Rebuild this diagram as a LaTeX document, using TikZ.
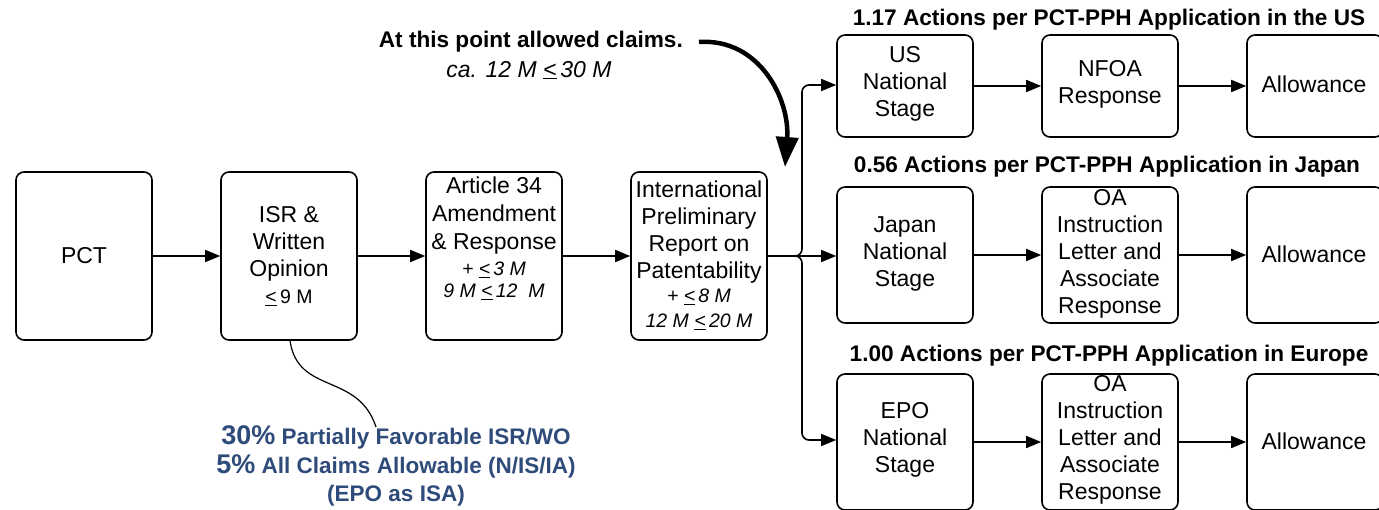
\documentclass[tikz,border=0pt]{standalone}
\usepackage{fontspec}
\setmainfont{Liberation Sans}
\usetikzlibrary{arrows.meta}
\definecolor{noteblue}{RGB}{47,75,122}
\newcommand{\leu}{\underline{<}}
\newcommand{\smallit}{\fontsize{19.5}{22}\selectfont\itshape}
\begin{document}
\begin{tikzpicture}[x=1pt,y=-1pt,
  box/.style={draw, line width=1.6pt, rounded corners=8pt, inner sep=0pt},
  txt/.style={align=center, font=\fontsize{23}{27}\selectfont, inner sep=0pt},
  flow/.style={line width=1.6pt, -{Triangle[length=15pt,width=12pt]}},
  ttl/.style={font=\fontsize{22.6}{26}\selectfont\bfseries, inner sep=0pt},
]
\useasboundingbox (0,0) rectangle (1379,510);
% left chain boxes
\node[box, minimum width=136pt, minimum height=168pt] (pct) at (84,256) {};
\node[txt] (pcttxt) at (84,256) {PCT};
\node[box, minimum width=136pt, minimum height=168pt] (isr) at (289,256) {};
\node[txt] (isrtxt) at (289,256) {ISR \&\\Written\\Opinion\\{\fontsize{19.5}{22}\selectfont\leu\,9 M}};
\node[box, minimum width=136pt, minimum height=168pt] (art) at (494,256) {};
\node[txt, anchor=north] (arttxt) at (494,177) {Article 34\\[1pt]Amendment\\[1pt]\& Response\\[-1pt]{\smallit + \leu\,3 M}\\[-5pt]{\smallit 9 M \leu\,12\ \ M}};
\node[box, minimum width=136pt, minimum height=168pt] (iprp) at (699,256) {};
\node[txt] (iprptxt) at (699,255) {International\\Preliminary\\Report on\\Patentability\\[-3pt]{\smallit + \leu\,8 M}\\[-2pt]{\smallit 12 M \leu\,20 M}};
\draw[flow] (pct) -- (isr);
\draw[flow] (isr) -- (art);
\draw[flow] (art) -- (iprp);
% right boxes
\node[box, minimum width=136pt, minimum height=102pt] (us) at (905,86) {};
\node[txt] (ustxt) at (905,84) {US\\National\\Stage};
\node[box, minimum width=136pt, minimum height=102pt] (nfoa) at (1110,86) {};
\node[txt] (nfoatxt) at (1110,84) {NFOA\\Response};
\node[box, minimum width=136pt, minimum height=102pt] (allus) at (1315,86) {};
\node[txt] (allustxt) at (1314,84) {Allowance};
\node[box, minimum width=136pt, minimum height=136pt] (jp) at (905,255) {};
\node[txt] (jptxt) at (905,254) {Japan\\National\\Stage};
\node[box, minimum width=136pt, minimum height=136pt] (oajp) at (1110,255) {};
\node[txt] (oajptxt) at (1110,254) {OA\\Instruction\\Letter and\\Associate\\Response};
\node[box, minimum width=136pt, minimum height=136pt] (alljp) at (1315,255) {};
\node[txt] (alljptxt) at (1314,254) {Allowance};
\node[box, minimum width=136pt, minimum height=136pt] (epo) at (905,442) {};
\node[txt] (epotxt) at (905,440) {EPO\\National\\Stage};
\node[box, minimum width=136pt, minimum height=136pt] (oaep) at (1110,442) {};
\node[txt] (oaeptxt) at (1110,440) {OA\\Instruction\\Letter and\\Associate\\Response};
\node[box, minimum width=136pt, minimum height=136pt] (allep) at (1315,442) {};
\node[txt] (alleptxt) at (1314,441) {Allowance};
% titles
\node[ttl] (t1) at (1109,20) {1.17 Actions per PCT-PPH Application in the US};
\node[ttl] (t2) at (1107,167) {0.56 Actions per PCT-PPH Application in Japan};
\node[ttl] (t3) at (1109,356) {1.00 Actions per PCT-PPH Application in Europe};
% right arrows
\draw[flow] (us) -- (nfoa);
\draw[flow] (nfoa) -- (allus);
\draw[flow] (jp) -- (oajp);
\draw[flow] (oajp) -- (alljp);
\draw[flow] (epo) -- (oaep);
\draw[flow] (oaep) -- (allep);
% branch
\coordinate (br) at (802,256);
\draw[flow] (iprp.east |- br) -- (jp.west |- br);
\draw[flow, rounded corners=7pt] (iprp.east |- br) -| (802,85) -- (us.west |- 0,85);
\draw[flow, rounded corners=7pt] (iprp.east |- br) -| (802,440) -- (epo.west |- 0,440);
% annotation
\node[font=\fontsize{22.6}{26}\selectfont\bfseries, anchor=east, inner sep=0pt] (note) at (683,42) {At this point allowed claims.};
\node[font=\fontsize{23}{26}\selectfont\itshape, inner sep=0pt] (note2) at (529,70) {ca. 12 M \leu\,30 M};
\coordinate (tip) at (785,167);
\draw[line width=4.5pt, -{Triangle[length=30pt,width=22pt]}] (699,42) .. controls (760,38) and (790,100) .. (tip);
% callout
\node[align=center, text=noteblue, inner sep=0pt, font=\fontsize{22.5}{28.5}\selectfont\bfseries] (blue) at (396,466)
  {{\fontsize{27}{28}\selectfont 30\%} Partially Favorable ISR/WO\\{\fontsize{27}{28}\selectfont 5\%} All Claims Allowable (N/IS/IA)\\(EPO as ISA)};
\coordinate (ce) at (376,427);
\draw[line width=1.2pt] (isr.south -| 290,0) .. controls (298,395) and (358,372) .. (ce);
\end{tikzpicture}
\end{document}
